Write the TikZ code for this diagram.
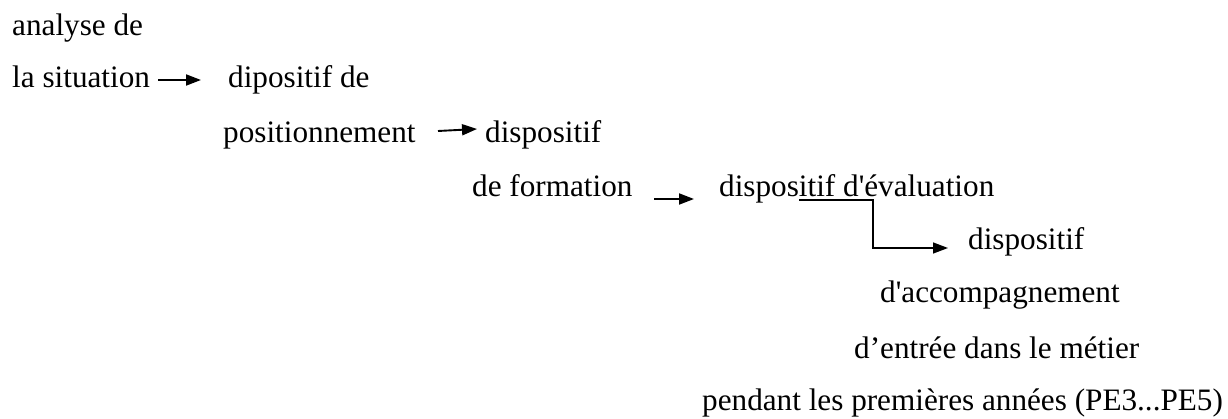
\documentclass[tikz,border=0pt]{standalone}
\usepackage{fontspec}
\setmainfont{Liberation Serif}[Ligatures=TeXOff]
\usetikzlibrary{arrows.meta}
\begin{document}
\begin{tikzpicture}[x=1pt,y=-1pt,
  lbl/.style={anchor=base west,inner sep=0pt,font=\fontsize{31.2}{36}\selectfont},
  flow/.style={line width=1.9pt,-{Triangle[length=15pt,width=11pt]}},
  elbow/.style={line width=1.4pt,-{Triangle[length=15pt,width=11pt]}}]
\useasboundingbox (0,0) rectangle (1228,419);
\node[lbl] (a1) at (12,36) {analyse de};
\node[lbl] (a2) at (12,88) {la situation};
\node[lbl] (b1) at (228,88) {dipositif de};
\node[lbl] (b2) at (223,143) {positionnement};
\node[lbl] (c1) at (485,143) {dispositif};
\node[lbl] (c2) at (472,197) {de formation};
\node[lbl] (d1) at (719,197) {dispositif d'évaluation};
\node[lbl] (e1) at (968,250) {dispositif};
\node[lbl] (e2) at (880,303) {d'accompagnement};
\node[lbl] (e3) at (854,358) {d’entrée dans le métier};
\node[lbl] (e4) at (702,410) {pendant les premières années (PE3...PE5)};
\coordinate (s1) at (158,80);
\coordinate (t1) at (201,80);
\coordinate (s2) at (438,131);
\coordinate (t2) at (477,129);
\coordinate (s3) at (654,199);
\coordinate (t3) at (694,199);
\coordinate (s4) at (799,200);
\coordinate (k4) at (873,200);
\coordinate (t4) at (948,248);
\draw[flow] (s1) -- (t1);
\draw[flow] (s2) -- (t2);
\draw[flow] (s3) -- (t3);
\draw[elbow] (s4) -- (k4) |- (t4);
\end{tikzpicture}
\end{document}
